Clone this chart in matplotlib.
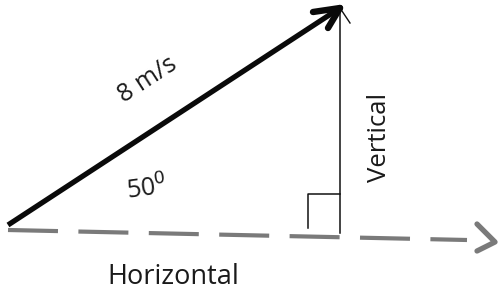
import matplotlib
matplotlib.use("Agg")
import matplotlib.pyplot as plt

# ---- diagram data (pixel coordinates of the reference, y downwards) ----
vector_start = [8, 225]
vector_tip = [340, 8]
vector_barbs = [[313, 12], [328, 28]]
vector_thin_barb = [350, 23]
vertical_x = [340, 340]
vertical_y = [8, 233]
right_angle_x = [308, 308, 340]
right_angle_y = [228, 194, 194]
horizontal_x = [8, 467]
horizontal_y = [230, 240]
chevron_x = [477, 495, 477]
chevron_y = [224, 242, 251]

labels = ["8 m/s", "50$^0$", "Vertical", "Horizontal"]
label_pos = [(148, 80), (147, 189), (379, 137), (173, 277)]
label_rot = [33, 8, 90, 0]
label_size = [18, 18, 18.5, 19.5]

fig = plt.figure(figsize=(4.98, 2.94), dpi=100)
ax = fig.add_axes([0, 0, 1, 1])
ax.set_xlim(0, 498)
ax.set_ylim(294, 0)
ax.axis("off")

gray = "#7a7a7a"
# dashed horizontal
ax.plot(horizontal_x, horizontal_y, color=gray, lw=3.0, dashes=(12.0, 4.9),
        solid_capstyle="butt", dash_capstyle="butt")
ax.plot(chevron_x, chevron_y, color=gray, lw=3.8, solid_joinstyle="round",
        solid_capstyle="round")

# vertical + right angle
ax.plot(vertical_x, vertical_y, color="#111111", lw=1.1)
ax.plot(right_angle_x, right_angle_y, color="#111111", lw=1.1)
ax.plot([vector_tip[0], vector_thin_barb[0]], [vector_tip[1], vector_thin_barb[1]],
        color="#111111", lw=1.0)

# thick vector
ax.plot([vector_start[0], vector_tip[0]], [vector_start[1], vector_tip[1]],
        color="#0a0a0a", lw=3.8, solid_capstyle="butt")
for b in vector_barbs:
    ax.plot([b[0], vector_tip[0]], [b[1], vector_tip[1]], color="#0a0a0a",
            lw=4.6, solid_capstyle="round")

for t, (x, y), r, s in zip(labels, label_pos, label_rot, label_size):
    ax.text(x, y, t, rotation=r, fontsize=s, family="Open Sans", color="#1a1a1a",
            ha="center", va="center", rotation_mode="anchor")

fig.savefig("out.png", dpi=100)
